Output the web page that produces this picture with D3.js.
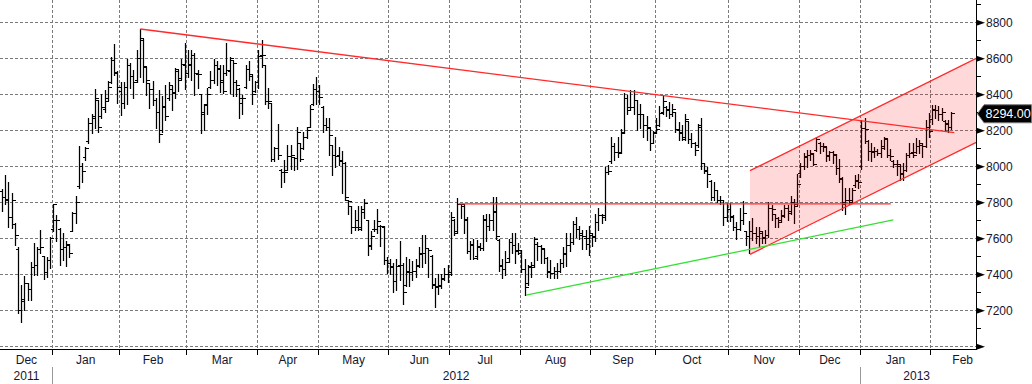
<!DOCTYPE html>
<html><head><meta charset="utf-8">
<script src="https://cdn.jsdelivr.net/npm/d3@7"></script>
<style>
html,body{margin:0;padding:0;background:#fff;overflow:hidden;}
svg{display:block;}
text{font-family:"Liberation Sans",Arial,sans-serif;}
</style></head><body>
<svg id="chart" width="1032" height="384"></svg>
<script>
// ---- data: daily OHLC bars (LME copper, USD/t), 7 Dec 2011 .. 11 Feb 2013 ----
const openP = [7860,7830,7820,7720,7680,7540,7200,7260,7350,7320,7440,7450,7540,7500,7410,7480,
7650,7700,7650,7540,7550,7560,7640,7740,7890,8000,8050,8140,8240,8280,8370,8280,8320,8380,8470,8590,8520,
8420,8350,8440,8560,8500,8480,8600,8700,8550,8460,8430,8370,8300,8200,8330,8380,8430,8410,8530,8490,8560,
8520,8570,8620,8510,8400,8290,8340,8440,8480,8560,8540,8480,8520,8530,8590,8470,8430,8350,8440,8540,8500,8420,
8470,8620,8560,8360,8350,8040,8100,7980,7970,7980,8055,8050,8045,8130,8100,8160,8220,8345,8430,
8420,8330,8230,8215,8120,8060,8060,8030,8020,7810,7780,7660,7700,7660,7760,7700,7560,7650,7650,7670,7660,7480,
7460,7440,7360,7450,7450,7340,7410,7410,7420,7450,7510,7520,7545,7500,7340,7330,7340,7380,7400,
7410,7700,7640,7790,7780,7700,7530,7560,7500,7550,7545,7700,7665,7700,7750,7590,7450,7430,7490,7580,7560,7530,
7520,7430,7350,7440,7450,7570,7555,7540,7490,7410,7405,7420,7420,7460,7510,7560,7580,7680,7650,7620,7600,7600,
7620,7610,7690,7730,7730,7970,8030,8110,8080,8080,8190,8380,8330,8330,8370,8290,8290,8230,8210,8130,
8190,8230,8300,8330,8320,8290,8300,8200,8190,8160,8250,8150,8130,8120,8230,8020,7980,7920,7830,7870,7815,7810,7720,
7760,7720,7660,7650,7700,7640,7610,7640,7630,7610,7630,7600,7620,7770,7735,7710,7700,7730,7770,7750,7800,7790,
7960,8000,8050,8065,8070,8090,8130,8110,8105,8060,8080,8060,7990,7930,7790,7810,7810,7895,7920,
8000,8210,8140,8085,8080,8085,8075,8110,8150,8060,8030,8010,8000,7960,7980,8060,8080,8080,8110,8120,8110,8220,
8260,8320,8310,8290,8250,8235,8220];
const highP = [7875,7955,7915,7855,7690,7555,7345,7395,7355,7470,7575,7555,7650,7505,7500,7610,
7795,7730,7660,7630,7585,7570,7750,7835,8115,8020,8110,8270,8290,8430,8370,8405,8425,8475,8610,8680,8530,
8470,8470,8600,8575,8540,8650,8765,8710,8555,8465,8475,8380,8425,8390,8455,8470,8450,8550,8540,8600,8690,
8650,8650,8630,8537,8400,8350,8435,8530,8600,8590,8565,8565,8690,8610,8590,8480,8435,8400,8565,8585,8510,8475,
8650,8705,8565,8435,8355,8110,8240,7990,8040,8120,8120,8055,8220,8130,8195,8220,8340,8460,8500,
8455,8335,8270,8270,8120,8165,8110,8085,8025,7815,7780,7760,7780,7780,7820,7705,7640,7705,7765,7675,7670,7500,
7490,7465,7485,7585,7465,7500,7485,7475,7485,7555,7620,7620,7545,7510,7380,7405,7405,7435,7455,
7750,7710,7825,7795,7785,7720,7585,7600,7595,7575,7730,7740,7740,7830,7830,7600,7490,7530,7600,7630,7630,7575,
7535,7490,7455,7470,7610,7580,7565,7545,7500,7480,7445,7465,7490,7555,7630,7630,7700,7720,7670,7650,7650,7670,
7630,7740,7770,7740,8000,8010,8165,8130,8165,8210,8410,8400,8425,8425,8370,8350,8295,8280,8210,8200,
8270,8335,8390,8335,8360,8350,8305,8250,8230,8290,8250,8185,8140,8240,8270,8020,8000,7925,7915,7870,7835,7815,7800,
7800,7730,7695,7770,7810,7640,7700,7715,7665,7665,7640,7650,7805,7785,7740,7720,7760,7785,7785,7835,7820,7960,
8020,8075,8095,8095,8075,8165,8140,8130,8110,8085,8085,8070,8045,7945,7880,7880,7880,7955,7960,
8260,8270,8150,8130,8110,8100,8150,8165,8155,8100,8035,8035,8010,8020,8075,8130,8130,8160,8150,8130,8260,8300,
8345,8345,8335,8325,8260,8260,8305];
const lowP = [7755,7795,7665,7660,7565,7185,7135,7205,7260,7260,7400,7400,7520,7375,7385,7435,
7645,7590,7455,7480,7450,7500,7640,7690,7880,7915,8040,8130,8185,8215,8195,8270,8305,8370,8465,8510,8355,
8285,8325,8350,8435,8380,8470,8500,8470,8400,8325,8345,8215,8135,8195,8260,8370,8315,8380,8420,8490,8430,
8500,8480,8400,8435,8185,8205,8295,8435,8465,8455,8415,8410,8510,8410,8390,8390,8270,8290,8435,8480,8350,8415,
8435,8555,8350,8325,8030,8030,8045,7890,7915,7980,7990,7980,7990,8030,8100,8160,8220,8340,8350,
8350,8195,8205,8065,7955,8000,8010,7855,7815,7740,7630,7650,7650,7650,7715,7510,7545,7640,7630,7560,7460,7410,
7405,7305,7315,7370,7240,7335,7335,7370,7390,7445,7445,7465,7390,7325,7220,7295,7325,7370,7360,
7400,7620,7630,7715,7630,7520,7490,7490,7490,7535,7535,7590,7650,7650,7600,7420,7380,7400,7470,7520,7465,7515,
7415,7290,7345,7390,7445,7480,7465,7465,7390,7380,7380,7380,7415,7445,7450,7530,7570,7610,7600,7545,7540,7510,
7560,7590,7650,7690,7705,7960,8020,8040,8055,8075,8185,8295,8315,8295,8205,8215,8165,8150,8095,8130,
8185,8225,8295,8280,8270,8280,8195,8150,8150,8150,8130,8110,8065,8110,7990,7965,7890,7815,7815,7805,7795,7675,7700,
7700,7650,7600,7650,7680,7565,7520,7595,7575,7555,7575,7575,7610,7705,7665,7665,7695,7720,7705,7740,7690,7790,
7945,7985,8000,8040,8010,8085,8075,8085,8030,8040,8020,7960,7915,7760,7740,7795,7800,7890,7880,
7990,8130,8040,8030,8055,8065,8055,8100,8055,8035,8000,7955,7925,7925,7975,8055,8055,8075,8075,8055,8110,8165,
8240,8270,8260,8260,8205,8195,8210];
const closeP = [7830,7815,7720,7810,7620,7200,7250,7350,7320,7440,7450,7540,7550,7410,7480,7600,
7790,7700,7540,7550,7565,7520,7740,7800,8000,7975,8100,8240,8270,8380,8215,8330,8360,8440,8590,8525,8440,
8350,8440,8560,8500,8470,8600,8710,8555,8480,8430,8370,8300,8180,8335,8280,8450,8405,8540,8480,8570,8520,
8565,8620,8520,8515,8300,8345,8400,8480,8560,8545,8470,8420,8535,8600,8575,8450,8380,8380,8540,8510,8400,8470,
8610,8620,8360,8360,8040,8100,8060,7970,7970,8055,8060,8045,8190,8040,8160,8200,8320,8430,8420,
8385,8230,8215,8175,8065,8055,8035,8020,7830,7805,7660,7660,7650,7745,7795,7555,7610,7650,7695,7665,7480,7465,
7445,7360,7445,7450,7300,7415,7410,7415,7445,7515,7515,7545,7535,7345,7335,7335,7375,7400,7400,
7720,7630,7790,7790,7705,7530,7565,7490,7555,7545,7705,7665,7700,7745,7610,7445,7430,7470,7580,7560,7535,7535,
7430,7330,7445,7440,7595,7555,7545,7490,7415,7405,7415,7420,7465,7520,7560,7580,7680,7650,7630,7610,7570,7630,
7605,7690,7730,7720,7970,7975,8110,8080,8075,8185,8380,8310,8330,8370,8290,8290,8230,8220,8130,8185,
8205,8295,8360,8315,8290,8320,8205,8185,8150,8260,8150,8130,8090,8220,8020,7975,7955,7830,7870,7815,7815,7720,7760,
7725,7660,7650,7700,7740,7610,7640,7630,7610,7640,7605,7620,7770,7760,7715,7690,7725,7770,7740,7800,7780,7900,
8000,8055,8065,8075,8015,8150,8110,8110,8055,8080,8070,7990,7935,7800,7815,7800,7870,7925,7915,
8210,8205,8085,8085,8085,8075,8100,8155,8065,8055,8010,8010,7955,7980,8065,8075,8065,8110,8130,8110,8220,8195,
8315,8310,8290,8300,8240,8220,8294];

// categories: trading-day calendar
const startDate = "2011-12-07";
const endDate = "2013-02-11";
const holidays = ["2011-12-26","2011-12-27","2012-01-02","2012-04-06","2012-04-09","2012-05-07",
  "2012-06-04","2012-06-05","2012-08-27","2012-12-25","2012-12-26","2013-01-01"];

// axis values
const yMajorTicks = [7000,7200,7400,7600,7800,8000,8200,8400,8600,8800];
const yMinorTicks = [7100,7300,7500,7700,7900,8100,8300,8500,8700,8900];
const yUnlabeled = [7000];
const lastPrice = 8294;
const lastPriceLabel = "8294.00";

// drawn study lines: [bar index, price]
const resistanceLine = [[43, 8765], [296.8, 8189]];
const supportLine = [[142.2, 7793], [277, 7793]];
const greenLine = [[163.3, 7287], [277.8, 7704]];
const channelUpper = [[233.1, 7978], [304.1, 8606]];
const channelLower = [[233.1, 7513], [304.1, 8139]];

// ---- layout ----
const W = 1032, H = 384;
const plotR = 977, plotB = 350;
const step = 3.207;
const svg = d3.select("#chart");

const parse = d3.utcParse("%Y-%m-%d"), fmt = d3.utcFormat("%Y-%m-%d");
const days = d3.utcDays(parse(startDate), d3.utcDay.offset(parse(endDate), 1))
  .filter(d => d.getUTCDay() % 6 !== 0 && !holidays.includes(fmt(d)));
const N = closeP.length;

const x = d3.scaleLinear().domain([-0.5, N - 0.5]).range([0.8, 0.8 + N * step]);
const y = d3.scaleLinear().domain([7000, 8800]).range([346.7, 22.7]);
const px = v => Math.floor(v) + 0.5;

svg.append("defs").append("clipPath").attr("id", "plot")
  .append("rect").attr("x", 0).attr("y", 0).attr("width", plotR).attr("height", plotB);

// months
const monthKey = d3.utcFormat("%Y-%m");
const months = [];
days.forEach((d, i) => {
  const k = monthKey(d);
  if (!months.length || months[months.length - 1].key !== k) months.push({key: k, date: d, start: i, end: i});
  else months[months.length - 1].end = i;
});

// grid
const grid = svg.append("g").attr("stroke", "#7a7a7a").attr("stroke-width", 1)
  .attr("stroke-dasharray", "3,2").attr("shape-rendering", "crispEdges");
grid.selectAll(".hg").data(yMajorTicks).join("line")
  .attr("x1", 0).attr("x2", plotR).attr("y1", d => px(y(d))).attr("y2", d => px(y(d)));
const bounds = months.slice(1).map(m => x(m.start - 0.5));
grid.selectAll(".vg").data(bounds).join("line")
  .attr("x1", d => px(d)).attr("x2", d => px(d)).attr("y1", 0).attr("y2", plotB);

// bars
const bars = svg.append("g").attr("clip-path", "url(#plot)").attr("stroke", "#000");
const idx = d3.range(N);
bars.append("g").attr("stroke-width", 1.25).selectAll("line").data(idx).join("line")
  .attr("x1", i => px(x(i))).attr("x2", i => px(x(i)))
  .attr("y1", i => Math.round(y(highP[i]))).attr("y2", i => Math.round(y(lowP[i])) + 1);
const ticks = bars.append("g").attr("stroke-width", 1.2).attr("shape-rendering", "crispEdges");
ticks.selectAll(".op").data(idx).join("line")
  .attr("x1", i => px(x(i)) - 2.5).attr("x2", i => px(x(i)))
  .attr("y1", i => px(y(openP[i]))).attr("y2", i => px(y(openP[i])));
ticks.selectAll(".cl").data(idx).join("line")
  .attr("x1", i => px(x(i))).attr("x2", i => px(x(i)) + 3)
  .attr("y1", i => px(y(closeP[i]))).attr("y2", i => px(y(closeP[i])));

// studies
const studies = svg.append("g").attr("clip-path", "url(#plot)");
const chan = channelUpper.concat(channelLower.slice().reverse());
studies.append("path")
  .attr("d", d3.line().x(d => x(d[0])).y(d => y(d[1]))(chan) + "Z")
  .attr("fill", "rgba(255,0,0,0.15)").attr("stroke", "none");
const ln = d3.line().x(d => x(d[0])).y(d => y(d[1]));
[channelUpper, channelLower, resistanceLine, supportLine].forEach(l =>
  studies.append("path").attr("d", ln(l)).attr("fill", "none").attr("stroke", "#ff2a2a").attr("stroke-width", 1.3));
studies.append("path").attr("d", ln(greenLine)).attr("fill", "none")
  .attr("stroke", "#33e033").attr("stroke-width", 1.3);

// axes lines
const ax = svg.append("g").attr("stroke", "#000").attr("shape-rendering", "crispEdges");
ax.append("line").attr("x1", plotR - 0.5).attr("x2", plotR - 0.5).attr("y1", 0).attr("y2", plotB);
ax.append("line").attr("x1", 0).attr("x2", plotR).attr("y1", plotB - 0.5).attr("y2", plotB - 0.5);
ax.selectAll(".mt").data(yMinorTicks).join("line")
  .attr("x1", plotR).attr("x2", plotR + 4).attr("y1", d => px(y(d))).attr("y2", d => px(y(d)));
ax.selectAll(".xt").data(bounds).join("line")
  .attr("x1", d => px(d)).attr("x2", d => px(d)).attr("y1", plotB).attr("y2", plotB + 5);

svg.append("g").selectAll("path").data(yMajorTicks).join("path")
  .attr("d", d => { const yy = y(d); return `M${plotR - 0.5},${yy - 3}L${plotR + 8},${yy}L${plotR - 0.5},${yy + 3}Z`; })
  .attr("fill", "#000");

svg.append("g").selectAll("text").data(yMajorTicks.filter(d => !yUnlabeled.includes(d))).join("text")
  .attr("x", plotR + 9).attr("y", d => y(d) + 4.5)
  .attr("font-size", 12).attr("fill", "#16162e").text(d => d);

// last price tag
const ty = y(lastPrice);
svg.append("path")
  .attr("d", `M${plotR + 0.5},${ty}L${plotR + 7},${ty - 9}L${W - 0.5},${ty - 9}L${W - 0.5},${ty + 9}L${plotR + 7},${ty + 9}Z`)
  .attr("fill", "#000").attr("stroke", "#777").attr("stroke-width", 1);
svg.append("text").attr("x", plotR + 8.5).attr("y", ty + 4.5).attr("font-size", 12.5)
  .attr("fill", "#fff").text(lastPriceLabel);

// month labels
const mfmt = d3.utcFormat("%b");
const ml = svg.append("g").attr("font-size", 12).attr("fill", "#16162e").attr("text-anchor", "middle");
months.forEach((m, k) => {
  const a = Math.max(0, x(m.start - 0.5));
  let b = x(m.end + 0.5);
  const last = k === months.length - 1;
  if (last) b = a + 20 * step;
  const t = ml.append("text").attr("y", 364).text(mfmt(m.date));
  const w = t.node().getComputedTextLength();
  let cx = (a + b) / 2;
  if (cx + w / 2 > plotR - 4) cx = plotR - 4 - w / 2;
  t.attr("x", cx);
});

// year labels
const years = [];
days.forEach((d, i) => {
  const yv = d.getUTCFullYear();
  if (!years.length || years[years.length - 1].y !== yv) years.push({y: yv, start: i, end: i});
  else years[years.length - 1].end = i;
});
const yl = svg.append("g").attr("font-size", 12).attr("fill", "#16162e").attr("text-anchor", "middle");
years.forEach((yr, k) => {
  const a = Math.max(0, x(yr.start - 0.5));
  const b = k === years.length - 1 ? plotR - 4 : x(yr.end + 0.5);
  yl.append("text").attr("x", (a + b) / 2).attr("y", 380).text(yr.y);
  if (k > 0) svg.append("line").attr("x1", px(a)).attr("x2", px(a)).attr("y1", 367).attr("y2", H)
    .attr("stroke", "#999").attr("shape-rendering", "crispEdges");
});
</script>
</body></html>
